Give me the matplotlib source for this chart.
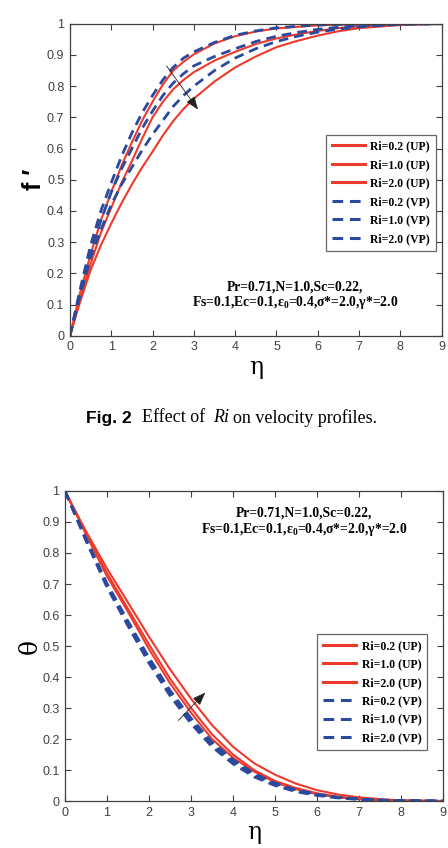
import numpy as np
import matplotlib
matplotlib.use("Agg")
import matplotlib.pyplot as plt

plt.rcParams['font.family'] = ['Liberation Sans', 'DejaVu Sans']
plt.rcParams['mathtext.fontset'] = 'custom'
plt.rcParams['mathtext.rm'] = 'Liberation Serif:bold'
plt.rcParams['mathtext.it'] = 'Liberation Serif:bold'
plt.rcParams['mathtext.bf'] = 'Liberation Serif:bold'

# velocity profiles f'(eta)
eta_f = [0, 0.25, 0.5, 0.75, 1, 1.25, 1.5, 1.75, 2, 2.25, 2.5, 2.75, 3, 3.5, 4, 4.5, 5, 5.5, 6, 6.5, 7, 8, 9]
f_up_02 = [0, 0.14, 0.26, 0.37, 0.46, 0.545, 0.62, 0.69, 0.75, 0.805, 0.85, 0.878, 0.902, 0.937, 0.96, 0.975, 0.985, 0.99, 0.995, 0.997, 0.999, 1, 1]
f_up_10 = [0, 0.12, 0.23, 0.33, 0.41, 0.49, 0.56, 0.632, 0.70, 0.75, 0.79, 0.82, 0.845, 0.882, 0.91, 0.935, 0.953, 0.966, 0.977, 0.986, 0.992, 0.998, 1]
f_up_20 = [0, 0.11, 0.21, 0.29, 0.36, 0.425, 0.485, 0.54, 0.59, 0.642, 0.688, 0.727, 0.76, 0.815, 0.86, 0.895, 0.925, 0.945, 0.962, 0.976, 0.986, 0.996, 1]
f_vp_02 = [0, 0.15, 0.29, 0.40, 0.49, 0.575, 0.65, 0.715, 0.77, 0.82, 0.86, 0.89, 0.91, 0.94, 0.963, 0.977, 0.987, 0.992, 0.996, 0.998, 0.999, 1, 1]
f_vp_10 = [0, 0.14, 0.27, 0.37, 0.46, 0.535, 0.60, 0.665, 0.72, 0.77, 0.81, 0.84, 0.865, 0.895, 0.92, 0.943, 0.96, 0.972, 0.982, 0.989, 0.994, 0.999, 1]
f_vp_20 = [0, 0.13, 0.25, 0.34, 0.42, 0.485, 0.54, 0.595, 0.645, 0.69, 0.735, 0.77, 0.80, 0.85, 0.89, 0.92, 0.943, 0.96, 0.973, 0.983, 0.99, 0.998, 1]

# temperature profiles theta(eta)
eta_t = [0, 0.5, 1, 1.5, 2, 2.5, 3, 3.5, 4, 4.5, 5, 5.5, 6, 6.5, 7, 7.5, 8, 9]
t_up_02 = [1, 0.86, 0.725, 0.61, 0.49, 0.38, 0.285, 0.20, 0.14, 0.095, 0.06, 0.038, 0.022, 0.012, 0.006, 0.003, 0.001, 0]
t_up_10 = [1, 0.865, 0.735, 0.62, 0.505, 0.395, 0.30, 0.215, 0.15, 0.10, 0.065, 0.042, 0.025, 0.014, 0.007, 0.003, 0.001, 0]
t_up_20 = [1, 0.87, 0.75, 0.64, 0.53, 0.425, 0.33, 0.245, 0.175, 0.122, 0.085, 0.056, 0.035, 0.021, 0.012, 0.006, 0.002, 0]
t_vp_02 = [1, 0.84, 0.69, 0.565, 0.445, 0.34, 0.25, 0.175, 0.12, 0.078, 0.05, 0.03, 0.018, 0.01, 0.005, 0.002, 0.001, 0]
t_vp_10 = [1, 0.843, 0.695, 0.572, 0.453, 0.348, 0.258, 0.182, 0.126, 0.083, 0.054, 0.033, 0.02, 0.011, 0.006, 0.003, 0.001, 0]
t_vp_20 = [1, 0.847, 0.702, 0.58, 0.462, 0.357, 0.267, 0.19, 0.133, 0.089, 0.058, 0.036, 0.022, 0.012, 0.007, 0.003, 0.001, 0]

labels = ["Ri=0.2 (UP)", "Ri=1.0 (UP)", "Ri=2.0 (UP)",
          "Ri=0.2 (VP)", "Ri=1.0 (VP)", "Ri=2.0 (VP)"]
params = "Pr=0.71,N=1.0,Sc=0.22,\nFs=0.1,Ec=0.1,ε$_0$=0.4,σ*=2.0,γ*=2.0"

red = '#EE3A2C'
blue = '#2B4A9E'
grey = '#404040'
serif_b = dict(family='Liberation Serif', weight='bold')

fig = plt.figure(figsize=(4.48, 8.48), dpi=100)
ax1 = fig.add_axes([0.156, 0.604, 0.830, 0.368])
ax2 = fig.add_axes([0.145, 0.0554, 0.844, 0.3656])


def draw(ax, eta, up, vp):
    for y in up:
        ax.plot(eta, y, color=red, lw=1.5)
    for y in vp:
        ax.plot(eta, y, color=blue, lw=2.0, ls=(0, (3.5, 2.2)))
    ax.set_xlim(0, 9)
    ax.set_ylim(0, 1)
    ax.set_xticks(range(10))
    ax.set_yticks(np.arange(0, 1.01, 0.1))
    ax.set_yticklabels(['0', '0.1', '0.2', '0.3', '0.4', '0.5', '0.6', '0.7', '0.8', '0.9', '1'])
    ax.tick_params(direction='in', top=True, right=True, length=4, width=0.8,
                   labelsize=9, colors=grey, pad=4)
    for s in ax.spines.values():
        s.set_color(grey)
        s.set_linewidth(0.9)
    ax.set_xlabel('η', fontsize=17, family='DejaVu Serif', labelpad=2)


draw(ax1, eta_f, [f_up_02, f_up_10, f_up_20], [f_vp_02, f_vp_10, f_vp_20])
draw(ax2, eta_t, [t_up_02, t_up_10, t_up_20], [t_vp_02, t_vp_10, t_vp_20])

ax1.set_ylabel("f ′", fontsize=18, fontweight='bold', labelpad=1,
               family=['Liberation Sans', 'DejaVu Sans'])
ax2.set_ylabel("θ", fontsize=18, family='DejaVu Serif', labelpad=0)

leg_kw = dict(loc='upper right', borderaxespad=0, handlelength=2.8, handletextpad=0.45,
              labelspacing=0.55, fancybox=False, prop=dict(family='Liberation Serif', weight='bold', size=8.5),
              borderpad=0.5)
l1 = ax1.legend(labels, bbox_to_anchor=(0.985, 0.645), **leg_kw)
l2 = ax2.legend(labels, bbox_to_anchor=(0.958, 0.539), **leg_kw)
for l in (l1, l2):
    l.get_frame().set_edgecolor(grey)
    l.get_frame().set_linewidth(0.9)
    for h in l.get_lines():
        h.set_linewidth(2.2)

ax1.text(5.45, 0.128, params, ha='center', va='center', fontsize=9.8, linespacing=1.1, **serif_b)
ax2.text(5.7, 0.9, params, ha='center', va='center', fontsize=9.8, linespacing=1.1, **serif_b)

arrow = dict(arrowstyle='-|>,head_length=0.8,head_width=0.3', color='#222222', lw=0.6,
             shrinkA=0, shrinkB=0)
ax1.annotate('', xy=(3.1, 0.725), xytext=(2.34, 0.865), arrowprops=arrow)
ax2.annotate('', xy=(3.34, 0.35), xytext=(2.7, 0.26), arrowprops=arrow)

cy = 1 - 418 / 848
fig.text(86 / 448, cy, 'Fig. 2', fontsize=12.5, fontweight='bold', va='center')
fig.text(142 / 448, cy, 'Effect of', fontsize=13, family='Liberation Serif', va='center')
fig.text(213 / 448, cy, 'Ri', fontsize=13, family='Liberation Serif', style='italic', va='center')
fig.text(233 / 448, cy, 'on velocity profiles.', fontsize=13, family='Liberation Serif', va='center')

fig.savefig('out.png', dpi=100)
